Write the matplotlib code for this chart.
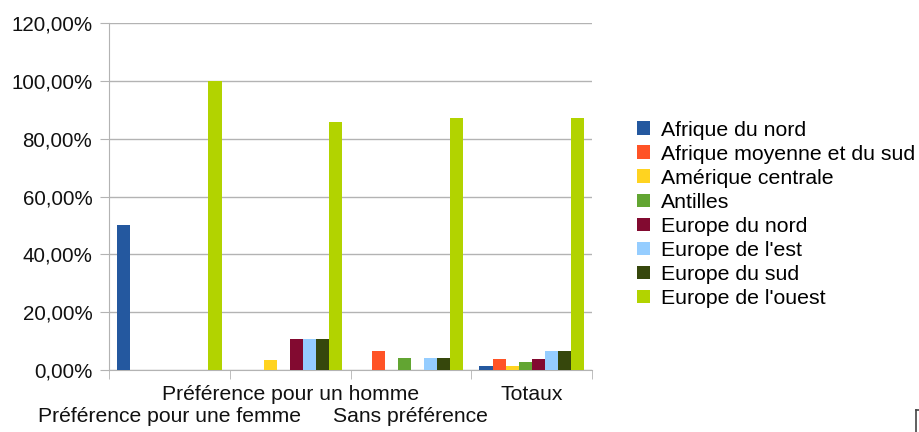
import matplotlib
matplotlib.use("Agg")
import matplotlib.pyplot as plt
import numpy as np
from matplotlib.ticker import FuncFormatter, FixedLocator
from matplotlib.lines import Line2D

plt.rcParams['font.family'] = ['Liberation Sans', 'DejaVu Sans']

categories = ["Préférence pour une femme", "Préférence pour un homme",
              "Sans préférence", "Totaux"]
series_names = ["Afrique du nord", "Afrique moyenne et du sud", "Amérique centrale",
                "Antilles", "Europe du nord", "Europe de l'est", "Europe du sud",
                "Europe de l'ouest"]
afrique_nord = [50.0, 0.0, 0.0, 1.3]
afrique_moy = [0.0, 0.0, 6.5, 3.9]
amerique_c = [0.0, 3.6, 0.0, 1.3]
antilles = [0.0, 0.0, 4.3, 2.6]
europe_nord = [0.0, 10.7, 0.0, 3.9]
europe_est = [0.0, 10.7, 4.3, 6.5]
europe_sud = [0.0, 10.7, 4.3, 6.5]
europe_ouest = [100.0, 85.7, 87.0, 87.0]
values = [afrique_nord, afrique_moy, amerique_c, antilles,
          europe_nord, europe_est, europe_sud, europe_ouest]
yticks = [0, 20, 40, 60, 80, 100, 120]

colors = ["#24589f", "#ff5326", "#ffd320", "#62a532", "#820a30",
          "#95cdff", "#36470c", "#b2d300"]

fig = plt.figure(figsize=(9.2, 4.32), dpi=100)
ax = fig.add_axes([109/920, 1-370/432, (592-109)/920, (370-23)/432])

n = len(series_names)
bw = 0.108
x = np.arange(len(categories))
for i, (name, vals, c) in enumerate(zip(series_names, values, colors)):
    ax.bar(x - (n/2)*bw + (i+0.5)*bw, vals, width=bw, color=c, label=name,
           zorder=3, linewidth=0)

ax.set_xlim(-0.5, len(categories)-0.5)
ax.set_ylim(0, 120)
ax.set_yticks(yticks)
ax.yaxis.set_major_formatter(FuncFormatter(lambda v, p: f"{v:.2f}".replace('.', ',') + "%"))
ax.yaxis.grid(True, color="#b3b3b3", linewidth=1.0, zorder=0)
ax.tick_params(axis='y', length=6.5, color="#b3b3b3", labelsize=14.8, pad=5.5,
               labelcolor="#111111")

ax.set_xticks([])
ax.xaxis.set_minor_locator(FixedLocator(np.arange(-0.5, len(categories), 1.0)))
ax.tick_params(axis='x', which='minor', length=6.5, color="#b3b3b3", direction='out')

for s in ['top', 'right']:
    ax.spines[s].set_visible(False)
ax.spines['left'].set_color("#b3b3b3")
ax.spines['bottom'].set_color("#b3b3b3")

trans = ax.get_xaxis_transform()
for i, cat in enumerate(categories):
    offset = -0.07 if i % 2 == 1 else -0.135
    ax.text(x[i], offset, cat, transform=trans, ha='center', va='center',
            fontsize=15.2, color="#111111")

leg = fig.legend(loc='upper left', bbox_to_anchor=(629/920, 1-112/432),
                 frameon=False, fontsize=15.3, handlelength=0.6, handleheight=0.6,
                 handletextpad=0.5, labelspacing=0.24, borderaxespad=0)

fig.add_artist(Line2D([916/920, 916/920], [0, 1-410/432], color="#444444", lw=1.2))
fig.add_artist(Line2D([916/920, 1], [1-410/432, 1-410/432], color="#444444", lw=1.2))

fig.savefig("out.png", dpi=100)
